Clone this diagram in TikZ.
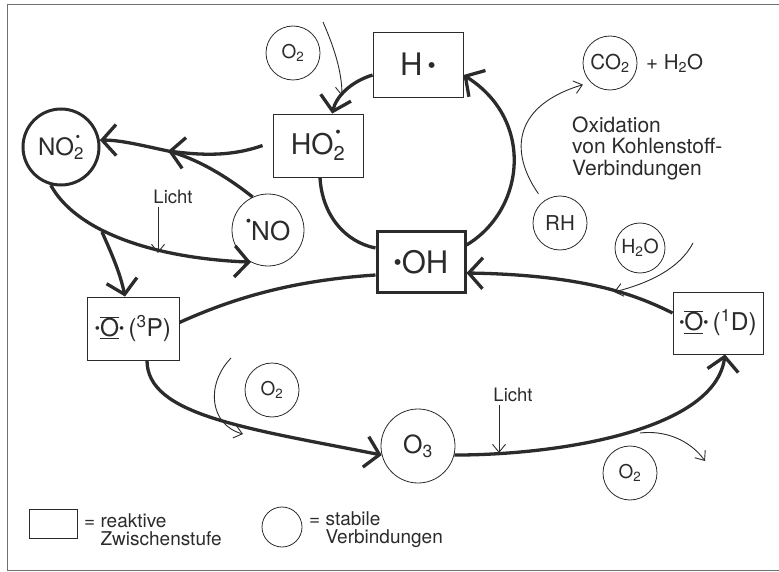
\documentclass[tikz,border=0pt]{standalone}
\usepackage{graphicx}
\usepackage{fontspec}
\setmainfont{TeX Gyre Heros}
\usetikzlibrary{arrows.meta}
\definecolor{ink}{HTML}{2B2B2B}
\definecolor{frame}{HTML}{707070}
\newcommand\fs[1]{\fontsize{#1}{#1}\selectfont}
\newcommand\rdot{\raisebox{0.13em}{\scalebox{0.6}{\textbullet}}}
\newcommand\bdot{\raisebox{0.08em}{\scalebox{0.75}{\textbullet}}}
\newcommand\twodot{\rlap{\hspace{0.06em}\raisebox{0.6em}{\scalebox{0.55}{\textbullet}}}\textsubscript{2}}
\newcommand\Obar{\ensuremath{\underline{\overline{\mbox{O}}}}}
\begin{document}
\begin{tikzpicture}[x=1pt,y=-1pt,
  rbox/.style={draw=ink, line width=0.9pt, inner sep=0pt, minimum width=90pt, minimum height=63pt, text=ink},
  cnode/.style={circle, draw=ink, line width=0.8pt, inner sep=0pt, minimum size=54pt, text=ink},
  thickarr/.style={draw=ink, line width=3.3pt, -{Straight Barb[length=14pt,width=31pt]}},
  thickline/.style={draw=ink, line width=3.3pt},
  thinarr/.style={draw=ink, line width=0.9pt, -{Straight Barb[length=8pt,width=13pt]}},
  lbl/.style={text=ink, inner sep=0pt}]
\useasboundingbox (0,0) rectangle (779,572);
\draw[frame, line width=1pt] (779,5) -- (7,5) -- (7,570) -- (779,570);

% boxes
\node[rbox, minimum height=65pt] (H) at (418,64.5) {\fs{31}H\,\bdot};
\node[rbox] (HO2) at (318,145.5) {\fs{28.5}HO\twodot};
\node[rbox, line width=3pt, minimum width=88pt, minimum height=61pt] (OH) at (421,262) {\fs{31}\bdot OH};
\node[rbox, minimum width=92pt] (P3) at (133,328.5) {\fs{24.5}\rdot\Obar\rdot\,(\textsuperscript{3}P)};
\node[rbox, minimum height=62pt] (D1) at (718,323) {\fs{24.5}\rdot\Obar\rdot\,(\textsuperscript{1}D)};

% circles
\node[cnode, line width=3pt, minimum size=76pt] (NO2) at (61,147) {\fs{24}NO\twodot};
\node[cnode, minimum size=72pt] (NO) at (268,230) {\fs{26}\raisebox{0.55em}{\scalebox{0.6}{\textbullet}}NO};
\node[cnode] (O2a) at (293,53) {\fs{19}O\textsubscript{2}};
\node[cnode] (O2b) at (272,390) {\fs{19}O\textsubscript{2}};
\node[cnode, minimum size=74pt] (O3) at (418,446) {\fs{25}O\textsubscript{3}};
\node[cnode] (O2c) at (630,473) {\fs{19}O\textsubscript{2}};
\node[cnode] (RH) at (560,223) {\fs{20.5}RH};
\node[cnode] (CO2) at (610,63) {\fs{20.5}CO\textsubscript{2}};
\node[cnode, minimum size=50pt] (H2O) at (640,248) {\fs{19.5}H\textsubscript{2}O};

% texts
\node[lbl, anchor=west] (plus) at (646,63) {\fs{20.5}+ H\textsubscript{2}O};
\node[lbl, anchor=west, align=left, font=\fontsize{21}{21.5}\selectfont] (oxi) at (572,148) {Oxidation\\von Kohlenstoff-\\Verbindungen};
\node[lbl] (L1) at (173,197) {\fs{18.5}Licht};
\node[lbl] (L2) at (513,395) {\fs{18.5}Licht};

% coordinates
\coordinate (o2in) at (323,22);
\coordinate (m1) at (342,96);
\coordinate (j1) at (168,151);
\coordinate (j2) at (102,232);
\coordinate (h2oin) at (693,243);
\coordinate (j3) at (614,292);
\coordinate (o2bin) at (231,358);
\coordinate (j4) at (243,434);
\coordinate (j5) at (640,433);
\coordinate (o2cout) at (705,461);
\coordinate (l1end) at (158,253);
\coordinate (l2end) at (499,453);

% connectors
\draw[thickarr] ([yshift=-10.5]H.west) .. controls (350,82) and (336,97) .. (HO2.66);
\draw[thinarr] (o2in) .. controls (333,45) and (342,70) .. (m1);
\draw[thickarr] ([xshift=-10]HO2.west) .. controls (230,157) and (200,155) .. (j1);
\draw[thickline] (NO.115) .. controls (225,175) and (195,158) .. (j1);
\draw[thickarr] (j1) .. controls (140,145) and (120,140) .. (NO2.10);
\draw[thickarr] (NO2.-105) .. controls (75,230) and (150,258) .. (NO.-118);
\draw[thickarr] (j2) .. controls (110,250) and (120,272) .. ([xshift=-8]P3.north);
\draw[thickarr] ([yshift=17]OH.east) .. controls (525,210) and (535,120) .. ([yshift=-10.5]H.east);
\draw[thickline] ([xshift=2]HO2.south) .. controls (322,215) and (345,242) .. ([yshift=14]OH.west);
\draw[thinarr, shorten <=9pt, shorten >=8pt] (RH.127) .. controls (508,150) and (515,105) .. (CO2.225);
\draw[thickarr] ([yshift=10]D1.west) .. controls (640,297) and (590,275) .. ([yshift=-11]OH.east);
\draw[thinarr] (h2oin) .. controls (680,268) and (650,283) .. (j3);
\draw[thickline] ([yshift=6]P3.east) .. controls (240,295) and (300,280) .. ([yshift=-13]OH.west);
\draw[thickarr] ([xshift=14]P3.south) .. controls (147,415) and (245,428) .. (O3.194);
\draw[thinarr] (o2bin) .. controls (205,385) and (210,425) .. (j4);
\draw[thickarr] (O3.-14) .. controls (560,455) and (715,430) .. ([xshift=7]D1.south);
\draw[thinarr] (j5) .. controls (665,430) and (690,440) .. (o2cout);
\draw[thinarr] ([xshift=-15,yshift=-3]L1.south) -- (l1end);
\draw[thinarr] ([xshift=-14,yshift=-3]L2.south) -- (l2end);

% legend
\node[rbox, minimum width=48pt, minimum height=29pt] (legbox) at (53,523.5) {};
\node[lbl, anchor=west, align=left, font=\fontsize{19}{18}\selectfont] (legbt) at (84,530) {= reaktive\\\phantom{= }Zwischenstufe};
\node[cnode, minimum size=40pt] (legc) at (282,527) {};
\node[lbl, anchor=west, align=left, font=\fontsize{19}{18}\selectfont] (legct) at (309,530) {= stabile\\\phantom{= }Verbindungen};
\end{tikzpicture}
\end{document}
